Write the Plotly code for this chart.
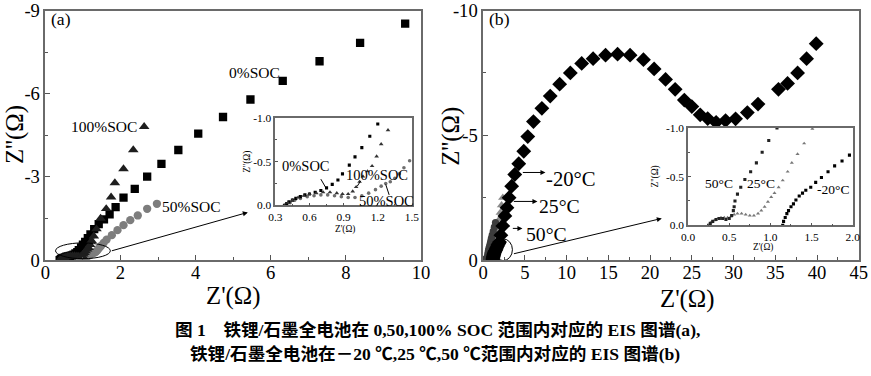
import plotly.graph_objects as go

W, H = 871, 376

# ---------------- Panel (a): EIS at 0, 50, 100 % SOC ----------------
soc0_x = [0.38, 0.40, 0.42, 0.45, 0.48, 0.52, 0.56, 0.60, 0.65, 0.70, 0.75, 0.80, 0.85,
          0.89, 0.95, 1.00, 1.06, 1.13, 1.20, 1.30, 1.42, 1.56, 1.71, 1.87, 2.08, 2.38,
          2.71, 3.09, 3.54, 4.07, 4.73, 5.46, 6.32, 7.30, 8.38, 9.58]
soc0_y = [0.00, -0.02, -0.04, -0.06, -0.08, -0.10, -0.12, -0.13, -0.15, -0.17, -0.20, -0.24, -0.29,
          -0.36, -0.46, -0.555, -0.66, -0.79, -0.93, -1.12, -1.30, -1.47, -1.65, -1.91, -2.25, -2.57,
          -3.01, -3.47, -3.97, -4.56, -5.16, -5.79, -6.46, -7.17, -7.83, -8.53]

soc100_x = [0.38, 0.41, 0.45, 0.50, 0.55, 0.60, 0.66, 0.72, 0.78, 0.84, 0.89, 0.94, 0.98,
            1.01, 1.04, 1.07, 1.11, 1.15, 1.19, 1.23, 1.29, 1.36, 1.47, 1.62, 1.75, 1.85,
            2.08, 2.34, 2.63]
soc100_y = [0.00, -0.03, -0.06, -0.09, -0.11, -0.13, -0.14, -0.15, -0.15, -0.14, -0.13, -0.13, -0.16,
            -0.21, -0.27, -0.33, -0.39, -0.45, -0.56, -0.70, -0.86, -1.12, -1.50, -1.85, -2.27, -2.78,
            -3.29, -3.97, -4.81]

soc50_x = [0.40, 0.43, 0.47, 0.52, 0.58, 0.64, 0.70, 0.76, 0.82, 0.88, 0.94, 1.00, 1.06,
           1.12, 1.18, 1.23, 1.27, 1.31, 1.35, 1.39, 1.43, 1.48, 1.55, 1.63, 1.77, 1.92,
           2.08, 2.26, 2.46, 2.71, 2.97]
soc50_y = [0.00, -0.03, -0.06, -0.08, -0.10, -0.11, -0.12, -0.12, -0.11, -0.10, -0.09, -0.09, -0.11,
           -0.14, -0.18, -0.22, -0.25, -0.27, -0.31, -0.36, -0.43, -0.51, -0.62, -0.74, -0.90, -1.08,
           -1.26, -1.44, -1.61, -1.85, -2.03]

# ---------------- Panel (b): EIS at -20, 25, 50 °C ----------------
tm20_x = [1.15, 1.16, 1.18, 1.20, 1.22, 1.25, 1.28, 1.31, 1.35, 1.39, 1.43, 1.49, 1.55, 1.62,
          1.70, 1.78, 1.87, 1.96, 2.12, 2.35, 2.60, 2.85, 3.10, 3.41, 3.78, 4.26, 4.86, 5.34,
          6.02, 7.03, 8.03, 9.16, 10.44, 11.8, 13.17, 14.66, 16.1, 17.6, 19.2, 20.48, 21.85,
          23.0, 24.1, 25.0, 26.0, 26.9, 27.91, 29.04, 30.24, 31.65, 32.93, 35.38, 36.47,
          37.67, 38.75, 39.9]
tm20_y = [0.00, -0.04, -0.08, -0.12, -0.15, -0.19, -0.22, -0.26, -0.30, -0.33, -0.36, -0.39, -0.44, -0.49,
          -0.55, -0.61, -0.66, -0.72, -1.00, -1.37, -1.77, -2.10, -2.50, -2.96, -3.43, -3.86, -4.36, -4.95,
          -5.55, -6.08, -6.57, -7.05, -7.50, -7.88, -8.07, -8.21, -8.25, -8.21, -8.03, -7.66, -7.24,
          -6.84, -6.41, -6.15, -5.82, -5.67, -5.52, -5.59, -5.66, -5.91, -6.25, -6.84, -7.08,
          -7.50, -8.07, -8.67]

t25_x = [0.25, 0.28, 0.32, 0.36, 0.40, 0.44, 0.48, 0.52, 0.56, 0.60, 0.65, 0.70, 0.75, 0.80,
         0.85, 0.89, 0.93, 0.97, 1.01, 1.05, 1.10, 1.15, 1.21, 1.26, 1.33, 1.41, 1.51, 1.63,
         1.76, 1.90, 2.05, 2.20, 2.35]
t25_y = [0.00, -0.03, -0.05, -0.07, -0.08, -0.08, -0.08, -0.09, -0.11, -0.12, -0.12, -0.11, -0.10, -0.10,
         -0.12, -0.15, -0.19, -0.24, -0.29, -0.33, -0.39, -0.46, -0.55, -0.64, -0.73, -0.84, -0.99, -1.17,
         -1.38, -1.62, -1.90, -2.20, -2.50]

t50_x = [0.25, 0.27, 0.30, 0.34, 0.38, 0.42, 0.46, 0.50, 0.53, 0.55, 0.56, 0.57, 0.60, 0.64,
         0.69, 0.76, 0.83, 0.90, 0.98, 1.08, 1.20, 1.33, 1.47]
t50_y = [0.00, -0.02, -0.04, -0.06, -0.07, -0.07, -0.06, -0.07, -0.10, -0.15, -0.19, -0.25, -0.32, -0.39,
         -0.47, -0.55, -0.64, -0.75, -0.87, -1.00, -1.15, -1.32, -1.50]

# ---------------- tick labels ----------------
a_xticks = [0, 2, 4, 6, 8, 10]
a_xlabels = ["0", "2", "4", "6", "8", "10"]
a_yticks = [0, -3, -6, -9]
a_ylabels = ["0", "-3", "-6", "-9"]
ai_xticks = [0.3, 0.6, 0.9, 1.2, 1.5]
ai_xlabels = ["0.3", "0.6", "0.9", "1.2", "1.5"]
i_yticks = [0.0, -0.5, -1.0]
i_ylabels = ["0.0", "-0.5", "-1.0"]
b_xticks = [0, 5, 10, 15, 20, 25, 30, 35, 40, 45]
b_xlabels = ["0", "5", "10", "15", "20", "25", "30", "35", "40", "45"]
b_yticks = [0, -5, -10]
b_ylabels = ["0", "-5", "-10"]
bi_xticks = [0.0, 0.5, 1.0, 1.5, 2.0]
bi_xlabels = ["0.0", "0.5", "1.0", "1.5", "2.0"]

SERIF = "Liberation Serif"

# layout positions below are measured on the reference picture; the photographed
# page appears with a small border, so map them back onto the page
SX, SY = 871 / 891, 376 / 396
FS = 1.035   # font/marker compensation


def fx(X):
    return X / SX - 10


def fy(Y):
    return Y / SY - 10


def hdom(a, b):
    return [fx(a) / W, fx(b) / W]


def vdom(top, bottom):
    return [1 - fy(bottom) / H, 1 - fy(top) / H]


def f(s):
    return round(s * FS, 1)


def axis(dom, rng, tv, tt, fs, mdt, anchor, ticklen=5, mlen=3, standoff=0):
    return dict(domain=dom, range=rng, tickmode="array", tickvals=tv, ticktext=tt,
                ticks="inside", ticklen=ticklen, tickwidth=1, tickcolor="#555",
                showline=True, linecolor="#6a6a6a", linewidth=1.5, mirror=True,
                showgrid=False, zeroline=False, anchor=anchor,
                ticklabelstandoff=standoff, ticklabeloverflow="allow",
                tickfont=dict(family=SERIF, size=f(fs), color="black"),
                minor=dict(ticks="inside", ticklen=mlen, tickwidth=1, tickcolor="#555",
                           dtick=mdt, tick0=0, showgrid=False))


fig = go.Figure()


def sc(x, y, xa, ya, sym, size, color, name):
    fig.add_trace(go.Scatter(x=x, y=y, mode="markers", xaxis=xa, yaxis=ya, name=name,
                             marker=dict(symbol=sym, size=f(size), color=color, line=dict(width=0)),
                             showlegend=False))


sc(soc50_x, soc50_y, "x", "y", "circle", 8, "#7d7d7d", "50%SOC")
sc(soc0_x, soc0_y, "x", "y", "square", 8, "black", "0%SOC")
sc(soc100_x, soc100_y, "x", "y", "triangle-up", 9, "#1e1e1e", "100%SOC")
sc(soc50_x, soc50_y, "x2", "y2", "circle", 3.5, "#6e6e6e", "50%SOC")
sc(soc0_x, soc0_y, "x2", "y2", "square", 3, "black", "0%SOC")
sc(soc100_x, soc100_y, "x2", "y2", "triangle-up", 4, "#333", "100%SOC")
sc(t25_x, t25_y, "x3", "y3", "triangle-up", 8, "#8a8a8a", "25°C")
sc(t50_x, t50_y, "x3", "y3", "circle", 7, "#3c3c3c", "50°C")
sc(tm20_x, tm20_y, "x3", "y3", "diamond", 11, "black", "-20°C")
sc(t25_x, t25_y, "x4", "y4", "triangle-up", 3.5, "#777", "25°C")
sc(t50_x, t50_y, "x4", "y4", "square", 3, "#222", "50°C")
sc(tm20_x, tm20_y, "x4", "y4", "square", 3, "black", "-20°C")

fig.update_layout(
    width=W, height=H, margin=dict(l=0, r=0, t=0, b=0),
    paper_bgcolor="white", plot_bgcolor="white",
    xaxis=axis(hdom(48, 422), [0, 10], a_xticks, a_xlabels, 18, 1, "y", standoff=-5),
    yaxis=axis(vdom(10, 261), [0, -9], a_yticks, a_ylabels, 18, 1.5, "x"),
    xaxis2=axis(hdom(277, 413), [0.3, 1.5], ai_xticks, ai_xlabels, 11, 0.15, "y2", 3, 2),
    yaxis2=axis(vdom(118, 206), [0, -1], i_yticks, i_ylabels, 11, 0.25, "x2", 3, 2),
    xaxis3=axis(hdom(484, 858), [0, 45], b_xticks, b_xlabels, 18, 2.5, "y3", standoff=-5),
    yaxis3=axis(vdom(10, 261), [0, -10], b_yticks, b_ylabels, 18, 2.5, "x3"),
    xaxis4=axis(hdom(688, 852), [0, 2], bi_xticks, bi_xlabels, 11, 0.25, "y4", 3, 2),
    yaxis4=axis(vdom(128, 226), [0, -1], i_yticks, i_ylabels, 11, 0.25, "x4", 3, 2),
)

ann = []


def txt(X, Y, s, size, angle=0, family=SERIF, bold=False):
    if bold:
        s = "<b>" + s + "</b>"
    ann.append(dict(x=fx(X) / W, y=1 - fy(Y) / H, xref="paper", yref="paper", text=s,
                    showarrow=False, textangle=angle, xanchor="center", yanchor="middle",
                    font=dict(family=family, size=f(size), color="black")))


def dtxt(x, y, s, size, xa, ya):
    ann.append(dict(x=x, y=y, xref=xa, yref=ya, text=s, showarrow=False,
                    xanchor="center", yanchor="middle",
                    font=dict(family=SERIF, size=f(size), color="black")))


def arrow(x0, y0, x1, y1, xa, ya, head=2):
    ann.append(dict(x=x1, y=y1, ax=x0, ay=y0, xref=xa, yref=ya, axref=xa, ayref=ya,
                    text="", showarrow=True, arrowhead=head, arrowsize=1, arrowwidth=1,
                    arrowcolor="black"))


txt(235, 297, "Z'(Ω)", 24)
txt(18, 135, "Z''(Ω)", 24, angle=-90)
txt(687, 300, "Z'(Ω)", 24)
txt(452, 137, "Z''(Ω)", 24, angle=-90)
txt(346, 230, "Z'(Ω)", 9)
txt(249, 162, "Z''(Ω)", 9, angle=-90)
txt(763, 248, "Z'(Ω)", 9)
txt(656, 177, "Z''(Ω)", 9, angle=-90)
txt(64, 19, "(a)", 17)
txt(500, 19, "(b)", 17)

dtxt(5.56, -6.77, "0%SOC", 15, "x", "y")
dtxt(1.55, -4.80, "100%SOC", 15, "x", "y")
dtxt(3.88, -1.94, "50%SOC", 15, "x", "y")
dtxt(0.57, -0.45, "0%SOC", 14, "x2", "y2")
dtxt(1.19, -0.35, "100%SOC", 14, "x2", "y2")
dtxt(1.28, -0.05, "50%SOC", 14, "x2", "y2")

dtxt(10.47, -3.23, "-20°C", 20, "x3", "y3")
dtxt(9.15, -2.15, "25°C", 19, "x3", "y3")
dtxt(7.58, -1.04, "50°C", 19, "x3", "y3")
dtxt(0.37, -0.43, "50°C", 13, "x4", "y4")
dtxt(0.88, -0.43, "25°C", 13, "x4", "y4")
dtxt(1.76, -0.37, "-20°C", 13, "x4", "y4")

arrow(4.57, -3.51, 7.46, -3.51, "x3", "y3")
arrow(3.49, -2.35, 6.5, -2.35, "x3", "y3")
arrow(3.37, -1.27, 4.7, -1.27, "x3", "y3")
arrow(1.73, -0.32, 5.39, -1.72, "x", "y")
arrow(3.5, -0.24, 21.4, -1.67, "x3", "y3")

CAP = "Liberation Serif, Noto Sans CJK SC"
txt(438, 331, "图 1　铁锂/石墨全电池在 0,50,100% SOC 范围内对应的 EIS 图谱(a),", 17, family=CAP, bold=True)
txt(436, 355, "铁锂/石墨全电池在－20 ℃,25 ℃,50 ℃范围内对应的 EIS 图谱(b)", 17, family=CAP, bold=True)

fig.update_layout(annotations=ann)

shapes = [
    dict(type="circle", xref="x", yref="y", x0=0.27, x1=1.73, y0=-0.05, y1=-0.62,
         line=dict(color="black", width=1)),
    dict(type="circle", xref="x3", yref="y3", x0=1.3, x1=3.5, y0=0.02, y1=-0.85,
         line=dict(color="black", width=1)),
    dict(type="line", xref="x2", yref="y2", x0=0.70, y0=-0.30, x1=0.74, y1=-0.21,
         line=dict(color="black", width=1)),
    dict(type="line", xref="x2", yref="y2", x0=1.05, y0=-0.28, x1=1.02, y1=-0.22,
         line=dict(color="black", width=1)),
    dict(type="line", xref="x2", yref="y2", x0=1.30, y0=-0.12, x1=1.27, y1=-0.24,
         line=dict(color="black", width=1)),
]
fig.update_layout(shapes=shapes)

POST = ("var d=document.getElementById('{plot_id}');"
        "d.style.position='fixed';d.style.left='0px';d.style.top='0px';"
        "document.documentElement.style.overflow='hidden';"
        "document.body.style.margin='0';document.body.style.padding='0';"
        "document.body.style.overflow='hidden';")

fig.write_html("out.html", config={"displayModeBar": False}, post_script=POST)
